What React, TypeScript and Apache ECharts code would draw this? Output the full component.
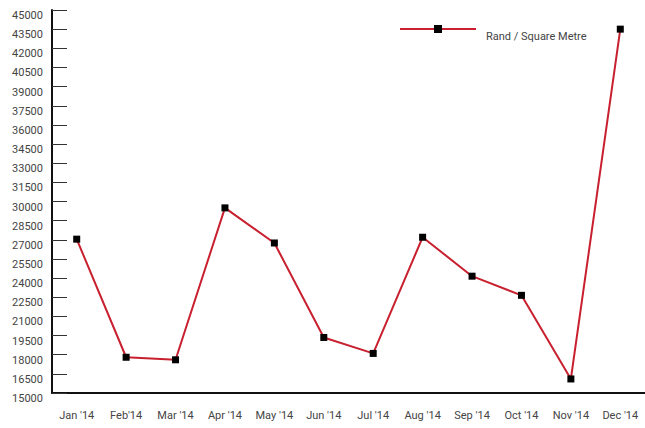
import React, { useEffect, useRef } from "react";
import * as echarts from "echarts";

const categories = ["Jan '14", "Feb'14", "Mar '14", "Apr '14", "May '14", "Jun '14", "Jul '14", "Aug '14", "Sep '14", "Oct '14", "Nov '14", "Dec '14"];
const randPerSqm = [27050, 17800, 17600, 29500, 26750, 19350, 18100, 27200, 24150, 22650, 16100, 43500];
const yMin = 15000;
const yMax = 45000;
const yStep = 1500;
const seriesName = "Rand / Square Metre";

export default function App() {
  const ref = useRef<HTMLDivElement>(null);
  useEffect(() => {
    if (!ref.current) return;
    const chart = echarts.init(ref.current, null, { renderer: "svg" });
    const font = "Roboto, 'DejaVu Sans', sans-serif";
    chart.setOption({
      animation: false,
      backgroundColor: "#ffffff",
      textStyle: { fontFamily: font },
      grid: { left: 52, top: 10, bottom: 35, right: -4, containLabel: false },
      legend: {
        left: 394,
        top: 20,
        itemWidth: 76,
        itemHeight: 10,
        itemGap: 0,
        data: [seriesName],
        formatter: (name: string) => "{t|" + name + "}",
        textStyle: {
          fontSize: 11,
          color: "#444",
          fontFamily: font,
          rich: { t: { fontSize: 11, color: "#444", fontFamily: font, padding: [14, 0, 0, 5] } },
        },
      },
      xAxis: {
        type: "category",
        data: categories,
        boundaryGap: true,
        axisLine: { lineStyle: { color: "#111", width: 2 } },
        axisTick: { inside: true, length: 9, lineStyle: { color: "#555", width: 1 } },
        axisLabel: { margin: 17, fontSize: 11, color: "#444", fontFamily: font },
        splitLine: { show: false },
      },
      yAxis: {
        type: "value",
        min: yMin,
        max: yMax,
        interval: yStep,
        axisLine: { show: true, lineStyle: { color: "#111", width: 2 } },
        axisTick: { show: true, inside: true, length: 15, lineStyle: { color: "#333", width: 1 } },
        axisLabel: {
          margin: 9,
          fontSize: 11,
          color: "#444",
          fontFamily: font,
          verticalAlign: "top",
          formatter: (v: number) => String(v),
        },
        splitLine: { show: false },
      },
      series: [
        {
          name: seriesName,
          type: "line",
          data: randPerSqm,
          symbol: "rect",
          symbolSize: 7,
          itemStyle: { color: "#000" },
          lineStyle: { color: "#c8202f", width: 2 },
          emphasis: { disabled: true },
        },
      ],
    });
    return () => chart.dispose();
  }, []);
  return <div ref={ref} style={{ width: 645, height: 428, position: "absolute", left: 0, top: 0 }} />;
}
